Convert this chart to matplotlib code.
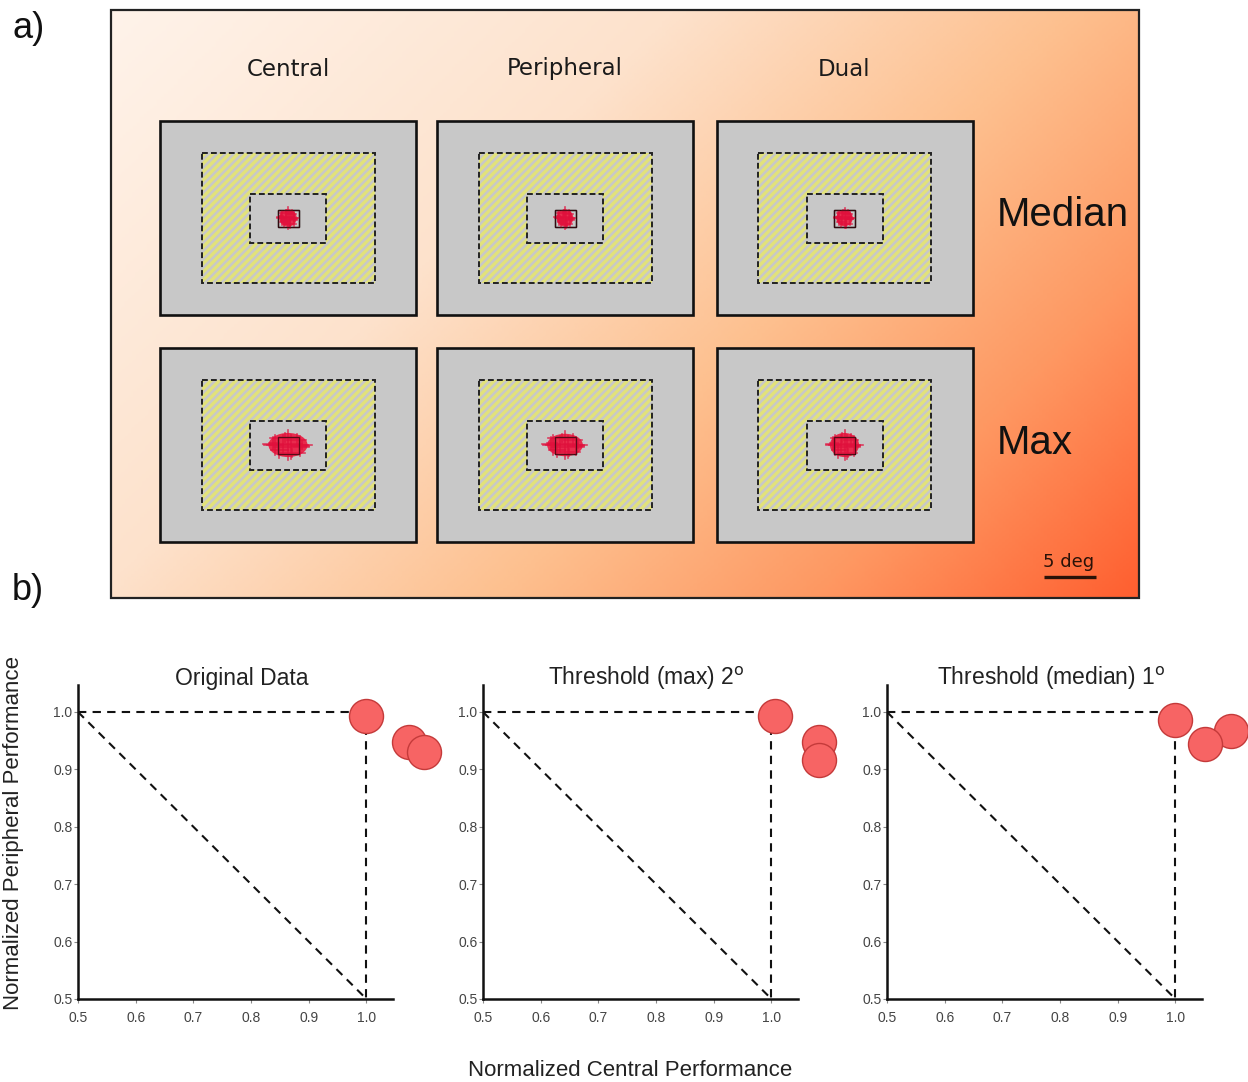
import numpy as np
import matplotlib
matplotlib.use("Agg")
import matplotlib.pyplot as plt
from matplotlib.patches import Rectangle, Ellipse
from matplotlib.colors import LinearSegmentedColormap

plt.rcParams['font.family'] = ['Liberation Sans', 'DejaVu Sans']
plt.rcParams['hatch.linewidth'] = 2.4

# ---- panel a data: gaze spread (deg) per condition ----
conditions = ["Central", "Peripheral", "Dual"]
rows = ["Median", "Max"]
median_w = [2.1, 2.0, 2.0]
median_h = [2.1, 2.1, 2.0]
max_w = [4.7, 4.3, 3.5]
max_h = [2.9, 2.7, 2.9]

# ---- panel b data ----
titles = ["Original Data", "Threshold (max) 2$^{\\rm o}$", "Threshold (median) 1$^{\\rm o}$"]
central_perf = [[1.0, 1.074, 1.099], [1.007, 1.083, 1.083], [1.0, 1.097, 1.052]]
periph_perf = [[0.993, 0.948, 0.930], [0.993, 0.948, 0.916], [0.986, 0.967, 0.944]]
ticks = [0.5, 0.6, 0.7, 0.8, 0.9, 1.0]

fig = plt.figure(figsize=(12.48, 10.82), dpi=100)
ax0 = fig.add_axes([0, 0, 1, 1])
ax0.set_xlim(0, 1248)
ax0.set_ylim(1082, 0)
ax0.axis('off')

# background gradient box
bx0, bx1, by0, by1 = 111, 1139, 10, 598
gx, gy = np.meshgrid(np.linspace(0, 1, 300), np.linspace(0, 1, 200))
t = 0.64 * gx + 0.36 * gy
cmap = LinearSegmentedColormap.from_list(
    "peach", [(0, "#fff3ea"), (0.35, "#fde2cc"), (0.6, "#fdc08f"), (0.8, "#fe9862"), (1.0, "#ff5f30")])
ax0.imshow(t, cmap=cmap, extent=(bx0, bx1, by1, by0), origin='upper', aspect='auto',
           vmin=0, vmax=1, zorder=0)
ax0.add_patch(Rectangle((bx0, by0), bx1 - bx0, by1 - by0, fill=False, ec='#222222', lw=1.6, zorder=1))

px_per_deg = 10.4
col_x = [288, 565, 844.5]
row_y = [218, 445]
pw, ph = 256, 194
hw, hh = 173, 130
iw, ih = 76, 49
sw, sh = 21, 17

# cross template (fractions of blob width/height): dx, dy, half-len x, half-len y
cross_tpl = [(-0.38, 0.0, 0.16, 0.34), (0.36, 0.05, 0.18, 0.32), (-0.1, -0.35, 0.3, 0.14),
             (0.12, 0.38, 0.26, 0.14), (0.0, 0.0, 0.5, 0.5), (-0.25, 0.25, 0.18, 0.24),
             (0.25, -0.25, 0.2, 0.2), (0.42, 0.0, 0.12, 0.12), (-0.45, -0.1, 0.08, 0.2),
             (0.1, 0.1, 0.35, 0.4), (-0.15, -0.05, 0.4, 0.3)]

dash = (0, (3.0, 1.6))
for r, (ws, hs) in enumerate([(median_w, median_h), (max_w, max_h)]):
    for c in range(3):
        cx, cy = col_x[c], row_y[r]
        ax0.add_patch(Rectangle((cx - pw / 2, cy - ph / 2), pw, ph, fc='#c8c8c8', ec='#111111', lw=1.9, zorder=2))
        ax0.add_patch(Rectangle((cx - hw / 2, cy - hh / 2), hw, hh, fc='#c8c8c8', ec='#e2e27a', lw=0,
                                hatch='////', zorder=3))
        ax0.add_patch(Rectangle((cx - hw / 2, cy - hh / 2), hw, hh, fill=False, ec='#222222', lw=1.4,
                                ls=dash, zorder=4))
        ax0.add_patch(Rectangle((cx - iw / 2, cy - ih / 2), iw, ih, fc='#c8c8c8', ec='#222222', lw=1.4,
                                ls=dash, zorder=5))
        bw = ws[c] * px_per_deg
        bh = hs[c] * px_per_deg
        ax0.add_patch(Rectangle((cx - sw / 2, cy - sh / 2), sw, sh, fill=False, ec='#111111', lw=1.0, zorder=6))
        ax0.add_patch(Ellipse((cx, cy), bw * 0.8, bh * 0.8, fc='#ee1038', ec='none', alpha=0.85, zorder=7))
        for dx, dy, lx, ly in cross_tpl:
            x0, y0 = cx + dx * bw * 0.7, cy + dy * bh * 0.7
            ax0.plot([x0 - lx * bw, x0 + lx * bw], [y0, y0], color='#e0103c', lw=1.2, alpha=0.75, zorder=8)
            ax0.plot([x0, x0], [y0 - ly * bh, y0 + ly * bh], color='#e0103c', lw=1.2, alpha=0.75, zorder=8)
        ax0.add_patch(Rectangle((cx - sw / 2, cy - sh / 2), sw, sh, fill=False, ec='#3a0a10', lw=0.9,
                                alpha=0.8, zorder=9))

for c, name in enumerate(conditions):
    ax0.text(col_x[c], 69, name, ha='center', va='center', fontsize=16.5,
             family=['DejaVu Sans'], color='#1a1a1a', zorder=9)
ax0.text(997, 215, rows[0], ha='left', va='center', fontsize=29, color='#111111', zorder=9)
ax0.text(997, 443, rows[1], ha='left', va='center', fontsize=29, color='#111111', zorder=9)

# scale bar
ax0.plot([1044, 1096], [577, 577], color='#2a1208', lw=2.4, solid_capstyle='butt', zorder=9)
ax0.text(1069, 562, "5 deg", ha='center', va='center', fontsize=13, family=['DejaVu Sans'],
         color='#2a1208', zorder=9)

ax0.text(12, 28, "a)", ha='left', va='center', fontsize=26, color='#111111')
ax0.text(12, 590, "b)", ha='left', va='center', fontsize=26, color='#111111')

# ---- panel b ----
lefts = [78, 483, 887]
W, H = 1248, 1082
for i in range(3):
    ax = fig.add_axes([lefts[i] / W, 1 - 999 / H, 315 / W, 314 / H])
    ax.patch.set_visible(False)
    ax.set_xlim(0.5, 1.046)
    ax.set_ylim(0.5, 1.047)
    ax.plot([0.5, 1.0], [1.0, 1.0], color='#111111', ls=(0, (4, 3)), lw=1.5, zorder=2)
    ax.plot([1.0, 1.0], [1.0, 0.5], color='#111111', ls=(0, (4, 3)), lw=1.5, zorder=2)
    ax.plot([0.5, 1.0], [1.0, 0.5], color='#111111', ls=(0, (4, 3)), lw=1.5, zorder=2)
    ax.scatter(central_perf[i], periph_perf[i], s=600, c='#f76464', edgecolors='#c43a3a',
               linewidths=1.0, zorder=5, clip_on=False)
    for sp in ['top', 'right']:
        ax.spines[sp].set_visible(False)
    for sp in ['left', 'bottom']:
        ax.spines[sp].set_linewidth(1.8)
        ax.spines[sp].set_color('#111111')
    ax.set_xticks(ticks)
    ax.set_yticks(ticks)
    ax.set_xticklabels([f"{v:.1f}" for v in ticks])
    ax.set_yticklabels([f"{v:.1f}" for v in ticks])
    ax.tick_params(axis='both', length=3, width=0.8, color='#888888', labelsize=10,
                   labelcolor='#444444', direction='out')
    ax.tick_params(axis='x', pad=6)
    ax.tick_params(axis='y', pad=1)
    ax.text(0.52, 1.02, titles[i], transform=ax.transAxes, ha='center', va='center',
            fontsize=16.5, color='#222222')

fig.text(630 / W, 1 - 1071 / H, "Normalized Central Performance", ha='center', va='center',
         fontsize=16, color='#222222')
fig.text(14 / W, 1 - 833 / H, "Normalized Peripheral Performance", ha='center', va='center',
         fontsize=16, rotation=90, color='#222222')

fig.savefig("out.png", dpi=100)
